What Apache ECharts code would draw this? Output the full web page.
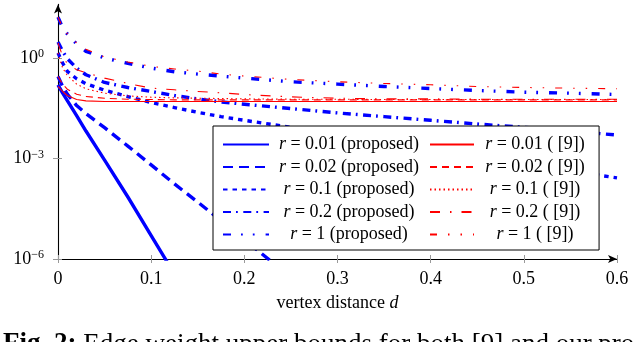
<!DOCTYPE html>
<html>
<head>
<meta charset="utf-8">
<script src="https://cdn.jsdelivr.net/npm/echarts@6/dist/echarts.min.js"></script>
<style>
  html, body { margin: 0; padding: 0; background: #fff; }
  #chart { width: 640px; height: 342px; }
</style>
</head>
<body>
<div id="chart"></div>
<script>
// vertex distance d (x values)
const dist = [0, 0.005, 0.01, 0.02, 0.03, 0.05, 0.075, 0.1, 0.125, 0.15, 0.175, 0.2,
  0.25, 0.3, 0.35, 0.4, 0.45, 0.5, 0.55, 0.6];

// upper bounds, as exponent of 10
// proposed
const prop001 = [-0.8, -1.05, -1.27, -1.72, -2.18, -3.05, -4.15, -5.3, -6.45];
const prop002 = [-0.55, -0.85, -1.08, -1.42, -1.66, -2.08, -2.63, -3.19, -3.76, -4.3, -4.86, -5.42, -6.55];
const prop01 = [0.15, -0.15, -0.4, -0.62, -0.77, -0.96, -1.15, -1.33, -1.48, -1.62, -1.75, -1.86,
  -2.07, -2.29, -2.5, -2.72, -2.93, -3.15, -3.37, -3.58];
const prop02 = [0.48, 0.2, -0.02, -0.3, -0.5, -0.73, -0.88, -1.0, -1.12, -1.22, -1.31, -1.38,
  -1.51, -1.64, -1.75, -1.86, -1.97, -2.07, -2.18, -2.3];
const prop1 = [1.22, 0.9, 0.72, 0.42, 0.2, 0.0, -0.16, -0.3, -0.41, -0.48, -0.54, -0.6,
  -0.71, -0.78, -0.85, -0.91, -0.97, -1.02, -1.05, -1.09];
// [9]
const ref001 = [-0.85, -1.0, -1.12, -1.24, -1.28, -1.3, -1.3, -1.3, -1.3, -1.3, -1.3, -1.3,
  -1.3, -1.3, -1.3, -1.3, -1.3, -1.3, -1.3, -1.3];
const ref002 = [-0.55, -0.78, -0.93, -1.08, -1.15, -1.2, -1.23, -1.24, -1.25, -1.25, -1.25, -1.25,
  -1.25, -1.25, -1.25, -1.25, -1.25, -1.25, -1.25, -1.25];
const ref01 = [0.15, -0.3, -0.52, -0.78, -0.92, -1.05, -1.13, -1.17, -1.19, -1.2, -1.21, -1.22,
  -1.23, -1.23, -1.24, -1.24, -1.24, -1.24, -1.24, -1.24];
const ref02 = [0.45, 0.05, -0.17, -0.35, -0.44, -0.6, -0.76, -0.9, -0.95, -1.0, -1.04, -1.09,
  -1.16, -1.2, -1.22, -1.22, -1.23, -1.23, -1.23, -1.23];
const ref1 = [1.22, 0.92, 0.72, 0.45, 0.26, 0.03, -0.12, -0.25, -0.33, -0.39, -0.48, -0.54,
  -0.64, -0.71, -0.76, -0.8, -0.85, -0.88, -0.9, -0.92];

const rValues = ['0.01', '0.02', '0.1', '0.2', '1'];
const yTicks = [-6, -3, 0];
const xTicks = [0, 0.1, 0.2, 0.3, 0.4, 0.5, 0.6];

const propData = [prop001, prop002, prop01, prop02, prop1];
const refData = [ref001, ref002, ref01, ref02, ref1];

const FONT = '"Liberation Serif", "Times New Roman", serif';
const BLUE = '#0000ff';
const RED = '#ff0000';

// dash patterns: solid, dashed, dotted, dash-dot, dash-dot-dot
const propDash = ['solid', [10, 6], [4.5, 5], [8, 5, 1.8, 5.5], [8, 10, 1.8, 10, 1.8, 11]];
const refDash = ['solid', [7, 5], [1.5, 3], [10, 10, 1.5, 10], [7, 11, 1.5, 11, 1.5, 11]];

const propNames = rValues.map(r => 'r = ' + r + ' (proposed)');
const refNames = rValues.map(r => 'r = ' + r + ' ( [9])');

function pairs(vals) {
  return vals.map((v, i) => [dist[i], v]);
}

const series = [];
propData.forEach((vals, k) => {
  series.push({
    name: propNames[k], type: 'line', data: pairs(vals),
    symbol: 'none', smooth: false, color: BLUE, z: 3,
    lineStyle: { color: BLUE, width: 3.4, type: propDash[k], cap: 'butt', join: 'round' }
  });
});
refData.forEach((vals, k) => {
  series.push({
    name: refNames[k], type: 'line', data: pairs(vals),
    symbol: 'none', smooth: false, color: RED, z: 4,
    lineStyle: { color: RED, width: 1.1, type: refDash[k], cap: 'butt', join: 'round' }
  });
});

function legendText(w) {
  return {
    fontFamily: FONT, fontSize: 18, color: '#000', width: w,
    rich: {
      i: { fontFamily: FONT, fontSize: 18, fontStyle: 'italic', align: 'center', lineHeight: 18 },
      t: { fontFamily: FONT, fontSize: 18, align: 'center', lineHeight: 18 }
    }
  };
}
const legendFmt = name => '{i|r}{t|' + name.slice(1) + '}';

function expLabel(v) {
  const e = v < 0 ? '\u2212' + (-v) : String(v);
  return '{b|10}{s|' + e + '}';
}

const chart = echarts.init(document.getElementById('chart'));
chart.setOption({
  animation: false,
  backgroundColor: '#fff',
  grid: { left: 58, right: 23, top: 4.4, bottom: 83, containLabel: false },
  xAxis: [{
    type: 'value', min: 0, max: 0.6, interval: 0.1,
    name: '{t|vertex distance }{i|d}', nameLocation: 'middle', nameGap: 35,
    nameTextStyle: {
      rich: {
        t: { fontFamily: FONT, fontSize: 18, color: '#000' },
        i: { fontFamily: FONT, fontSize: 18, fontStyle: 'italic', color: '#000' }
      }
    },
    axisLine: { onZero: false, lineStyle: { color: '#000', width: 1.1 }, symbol: ['none', 'arrow'], symbolSize: [6, 9] },
    axisTick: { show: true, length: 4, lineStyle: { color: '#999' }, customValues: xTicks },
    axisLabel: { fontFamily: FONT, fontSize: 18, color: '#000', margin: 11, customValues: xTicks,
      formatter: v => String(+v.toFixed(1)) },
    splitLine: { show: false }
  }, {
    type: 'value', min: 0, max: 0.6, interval: 0.1, position: 'bottom',
    axisLine: { show: false, onZero: false },
    axisTick: { show: true, inside: true, length: 4, lineStyle: { color: '#999' }, customValues: xTicks },
    axisLabel: { show: false }, splitLine: { show: false }
  }],
  yAxis: [{
    type: 'value', min: -6, max: 1.6, interval: 3,
    axisLine: { onZero: false, lineStyle: { color: '#000', width: 1.1 }, symbol: ['none', 'arrow'], symbolSize: [6, 9] },
    axisTick: { show: true, length: 5, lineStyle: { color: '#999' }, customValues: yTicks },
    axisLabel: {
      margin: 14, customValues: yTicks, formatter: expLabel,
      rich: {
        b: { fontFamily: FONT, fontSize: 18, color: '#000', lineHeight: 20 },
        s: { fontFamily: FONT, fontSize: 12, color: '#000', verticalAlign: 'top', lineHeight: 12 }
      }
    },
    splitLine: { show: false }
  }, {
    type: 'value', min: -6, max: 1.6, interval: 3, position: 'left',
    axisLine: { show: false, onZero: false },
    axisTick: { show: true, inside: true, length: 4, lineStyle: { color: '#999' }, customValues: yTicks },
    axisLabel: { show: false }, splitLine: { show: false }
  }],
  legend: [{
    orient: 'vertical', left: 213, top: 126,
    padding: [9.5, 180, 6.5, 9], itemGap: 4.5, itemWidth: 46, itemHeight: 14,
    backgroundColor: '#fff', borderColor: '#000', borderWidth: 1, borderRadius: 0,
    itemStyle: { opacity: 0 },
    data: propNames, formatter: legendFmt, textStyle: legendText(150),
    selectedMode: false
  }, {
    orient: 'vertical', left: 429, top: 135.5,
    padding: 0, itemGap: 4.5, itemWidth: 44, itemHeight: 14,
    itemStyle: { opacity: 0 },
    data: refNames, formatter: legendFmt, textStyle: legendText(112),
    selectedMode: false, z: 5
  }],
  graphic: [{
    type: 'text', left: 3, top: 331,
    style: {
      text: '{b|Fig. 2:} Edge weight upper bounds for both [9] and our pro',
      font: '27px "Liberation Serif"', fill: '#000',
      rich: { b: { fontFamily: FONT, fontSize: 27, fontWeight: 'bold' } }
    }
  }],
  series: series
});
</script>
</body>
</html>
